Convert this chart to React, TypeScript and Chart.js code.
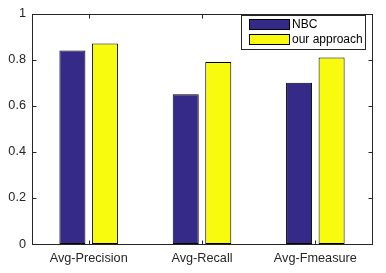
import React, { useEffect, useRef } from "react";
import { Chart, registerables } from "chart.js";

Chart.register(...registerables);

const categories = ["Avg-Precision", "Avg-Recall", "Avg-Fmeasure"];
const nbcValues = [0.84, 0.65, 0.70];
const oursValues = [0.87, 0.79, 0.81];
const seriesNames = ["NBC", "our approach"];
const yTicks = [0, 0.2, 0.4, 0.6, 0.8, 1];

const AXIS = "#262626";
const FONT = "Liberation Sans, Arial, Helvetica, sans-serif";

const boxPlugin = {
  id: "matlabBox",
  afterDatasetsDraw(chart: any) {
    const { ctx, chartArea: a, scales } = chart;
    ctx.save();
    ctx.strokeStyle = AXIS;
    ctx.lineWidth = 1;
    const L = Math.round(a.left) + 0.5, R = Math.round(a.right) + 0.5;
    const T = Math.round(a.top) + 0.5, B = Math.round(a.bottom) + 0.5;
    ctx.strokeRect(L, T, R - L, B - T);
    const tl = 4;
    ctx.beginPath();
    yTicks.forEach((v) => {
      const y = Math.round(scales.y.getPixelForValue(v)) + 0.5;
      ctx.moveTo(L, y); ctx.lineTo(L + tl, y);
      ctx.moveTo(R, y); ctx.lineTo(R - tl, y);
    });
    categories.forEach((_, i) => {
      const x = Math.round(scales.x.getPixelForValue(i)) + 0.5;
      ctx.moveTo(x, B); ctx.lineTo(x, B - tl);
      ctx.moveTo(x, T); ctx.lineTo(x, T + tl);
    });
    ctx.stroke();

    // legend
    const lx = 241, ly = 15, lw = 124, lh = 34;
    ctx.fillStyle = "#ffffff";
    ctx.fillRect(lx, ly, lw, lh);
    ctx.strokeRect(lx + 0.5, ly + 0.5, lw, lh);
    ctx.font = `12px ${FONT}`;
    ctx.textBaseline = "middle";
    chart.data.datasets.forEach((ds: any, i: number) => {
      const sy = ly + 4 + i * 15;
      ctx.fillStyle = ds.backgroundColor;
      ctx.fillRect(249, sy, 40, 10);
      ctx.strokeStyle = "#000";
      ctx.strokeRect(249.5, sy + 0.5, 40, 10);
      ctx.fillStyle = "#000";
      ctx.fillText(ds.label, 292, sy + 6);
    });
    ctx.restore();
  },
};

export default function App() {
  const ref = useRef<HTMLCanvasElement | null>(null);
  useEffect(() => {
    document.body.style.margin = "0";
    const chart = new Chart(ref.current!, {
      type: "bar",
      data: {
        labels: categories,
        datasets: [
          {
            label: seriesNames[0],
            data: nbcValues,
            backgroundColor: "#352a87",
            borderColor: "#000000",
            borderWidth: 1,
            borderSkipped: false,
            barPercentage: 0.8,
            categoryPercentage: 0.574,
          },
          {
            label: seriesNames[1],
            data: oursValues,
            backgroundColor: "#f9fb0e",
            borderColor: "#000000",
            borderWidth: 1,
            borderSkipped: false,
            barPercentage: 0.8,
            categoryPercentage: 0.574,
          },
        ],
      },
      options: {
        responsive: false,
        animation: false,
        layout: { padding: { top: 13, right: 14, left: 0, bottom: 0 } },
        plugins: { legend: { display: false }, tooltip: { enabled: false } },
        scales: {
          x: {
            grid: { display: false, drawTicks: false },
            border: { display: false },
            ticks: { color: AXIS, font: { family: FONT, size: 12.7 }, padding: 7, maxRotation: 0 },
            afterFit: (s: any) => { s.height = 29; },
          },
          y: {
            min: 0,
            max: 1,
            afterBuildTicks: (s: any) => { s.ticks = yTicks.map((v) => ({ value: v })); },
            grid: { display: false, drawTicks: false },
            border: { display: false },
            ticks: {
              color: AXIS,
              font: { family: FONT, size: 12.7 },
              padding: 6,
              callback: (v: any) => String(Number(v)),
            },
            afterFit: (s: any) => { s.width = 32; },
          },
        },
      },
      plugins: [boxPlugin],
    });
    return () => chart.destroy();
  }, []);
  return <canvas ref={ref} width={386} height={273} style={{ display: "block" }} />;
}
